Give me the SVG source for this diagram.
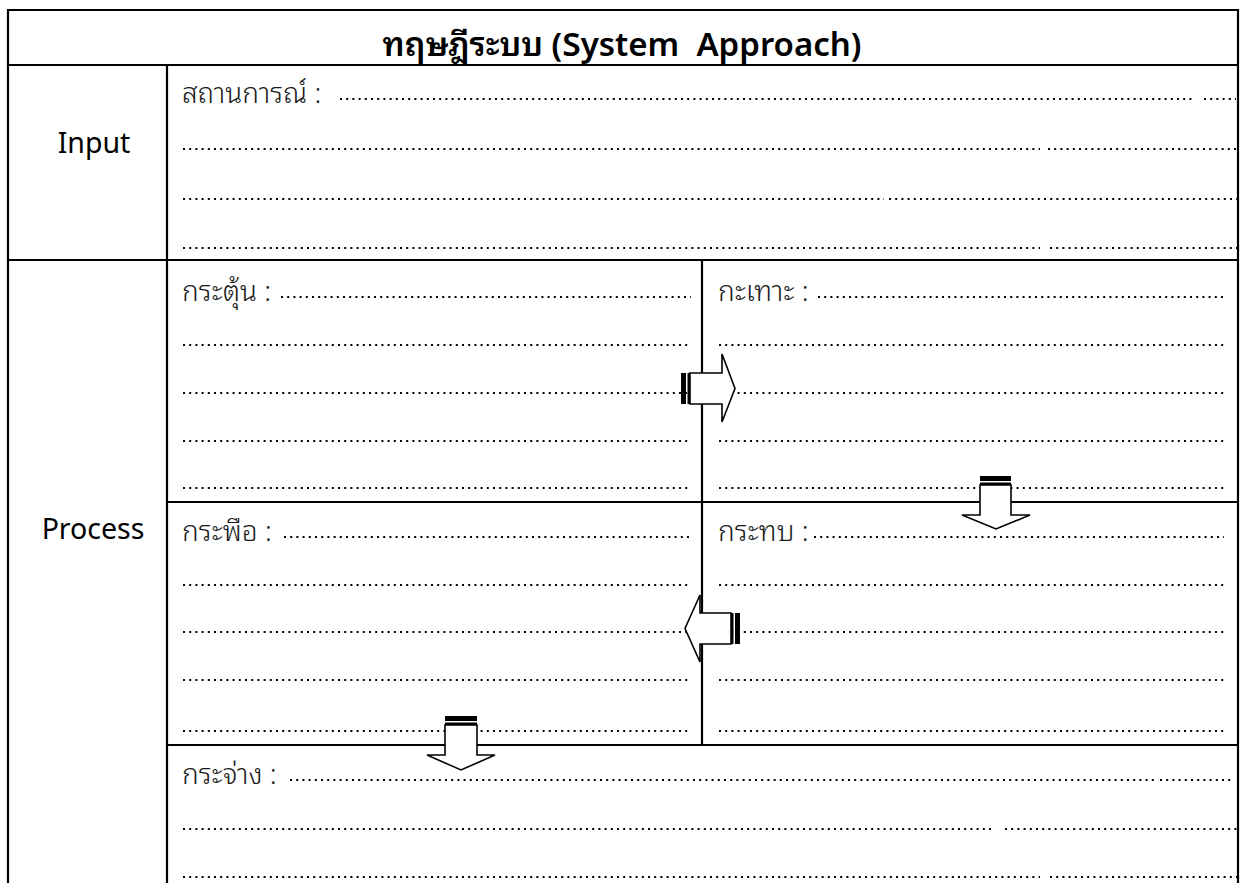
<svg xmlns="http://www.w3.org/2000/svg" width="1240" height="883" viewBox="0 0 1240 883">
  <defs>
    <style>
      .rule { stroke: #000; stroke-width: 2.2; fill: none; }
      .dots { stroke: #000; stroke-width: 2; stroke-dasharray: 2 4.2; fill: none; }
      .lbl { font-family: "Noto Sans Thai Looped", "Noto Sans Thai", "Noto Sans Thai UI", "Noto Sans", sans-serif; font-size: 28px; font-weight: 300; fill: #1a1a1a; }
      .side { font-family: "Noto Sans", "Open Sans", sans-serif; font-size: 28.5px; fill: #000; text-anchor: middle; }
      .title { font-family: "Noto Sans Thai Looped", "Noto Sans Thai", "Noto Sans", sans-serif; font-size: 33px; font-weight: 600; fill: #000; text-anchor: middle; white-space: pre; }
      .arrow { fill: #fff; stroke: #000; stroke-width: 1.6; stroke-linejoin: miter; }
      .stripe { fill: #000; }
    </style>
  </defs>
  <rect width="1240" height="883" fill="#fff"/>

  <!-- table frame -->
  <g id="frame">
    <path class="rule" d="M8,883 V10 H1238 V883"/>
    <line class="rule" x1="8" y1="65" x2="1238" y2="65"/>
    <line class="rule" x1="167" y1="65" x2="167" y2="883"/>
    <line class="rule" x1="8" y1="260" x2="1238" y2="260"/>
    <line class="rule" x1="167" y1="502" x2="1238" y2="502"/>
    <line class="rule" x1="167" y1="745" x2="1238" y2="745"/>
    <line class="rule" x1="702" y1="260" x2="702" y2="745"/>
  </g>

  <g id="title">
    <text class="title" x="622" y="56" xml:space="preserve">ทฤษฎีระบบ (System  Approach)</text>
  </g>

  <g id="input-label">
    <text class="side" x="94" y="153">Input</text>
  </g>

  <g id="input-cell">
    <text class="lbl" x="182" y="103">สถานการณ์ :</text>
    <line class="dots" x1="340" y1="99" x2="1194" y2="99"/>
    <line class="dots" x1="1204" y1="99" x2="1236" y2="99"/>
    <line class="dots" x1="183" y1="149" x2="1040" y2="149"/>
    <line class="dots" x1="1048" y1="149" x2="1237" y2="149"/>
    <line class="dots" x1="183" y1="199" x2="884" y2="199"/>
    <line class="dots" x1="889" y1="199" x2="1237" y2="199"/>
    <line class="dots" x1="183" y1="248" x2="1040" y2="248"/>
    <line class="dots" x1="1050" y1="248" x2="1237" y2="248"/>
  </g>

  <g id="process-label">
    <text class="side" x="93" y="539">Process</text>
  </g>

  <g id="stage-1">
    <text class="lbl" x="182" y="301">กระตุ้น :</text>
    <line class="dots" x1="281" y1="297" x2="691" y2="297"/>
    <line class="dots" x1="183" y1="345" x2="691" y2="345"/>
    <line class="dots" x1="183" y1="393" x2="691" y2="393"/>
    <line class="dots" x1="183" y1="441" x2="691" y2="441"/>
    <line class="dots" x1="183" y1="488" x2="691" y2="488"/>
  </g>

  <g id="stage-2">
    <text class="lbl" x="718" y="301">กะเทาะ :</text>
    <line class="dots" x1="818" y1="297" x2="1224" y2="297"/>
    <line class="dots" x1="719" y1="345" x2="1224" y2="345"/>
    <line class="dots" x1="719" y1="393" x2="1224" y2="393"/>
    <line class="dots" x1="719" y1="441" x2="1224" y2="441"/>
    <line class="dots" x1="719" y1="488" x2="1224" y2="488"/>
  </g>

  <g id="stage-3">
    <text class="lbl" x="718" y="541">กระทบ :</text>
    <line class="dots" x1="814" y1="537" x2="1224" y2="537"/>
    <line class="dots" x1="719" y1="585" x2="1224" y2="585"/>
    <line class="dots" x1="719" y1="632" x2="1224" y2="632"/>
    <line class="dots" x1="719" y1="680" x2="1224" y2="680"/>
    <line class="dots" x1="719" y1="731" x2="1224" y2="731"/>
  </g>

  <g id="stage-4">
    <text class="lbl" x="182" y="541">กระพือ :</text>
    <line class="dots" x1="284" y1="537" x2="691" y2="537"/>
    <line class="dots" x1="183" y1="585" x2="691" y2="585"/>
    <line class="dots" x1="183" y1="632" x2="691" y2="632"/>
    <line class="dots" x1="183" y1="680" x2="691" y2="680"/>
    <line class="dots" x1="183" y1="731" x2="691" y2="731"/>
  </g>

  <g id="stage-5">
    <text class="lbl" x="182" y="784">กระจ่าง :</text>
    <line class="dots" x1="290" y1="780" x2="1154" y2="780"/>
    <line class="dots" x1="1160" y1="780" x2="1233" y2="780"/>
    <line class="dots" x1="183" y1="829" x2="995" y2="829"/>
    <line class="dots" x1="1005" y1="829" x2="1237" y2="829"/>
    <line class="dots" x1="183" y1="877" x2="1040" y2="877"/>
    <line class="dots" x1="1050" y1="877" x2="1237" y2="877"/>
  </g>

  <!-- striped block arrows between the stages -->
  <g id="connectors">
    <g id="arrow-1-2">
      <rect class="stripe" x="681" y="373" width="5" height="31"/>
      <rect class="stripe" x="687.5" y="373" width="2.5" height="31"/>
      <path class="arrow" d="M690,373 H722 V354 L735,388.5 L722,422 V404 H690 Z"/>
    </g>
    <g id="arrow-2-3">
      <rect class="stripe" x="980" y="476" width="31" height="5"/>
      <rect class="stripe" x="980" y="482.5" width="31" height="2.5"/>
      <path class="arrow" d="M980,485 V515 H962 L996,529 L1030,515 H1011 V485 Z"/>
    </g>
    <g id="arrow-3-4">
      <rect class="stripe" x="735" y="613" width="5" height="31"/>
      <rect class="stripe" x="731" y="613" width="2.5" height="31"/>
      <path class="arrow" d="M731,613 H700 V595 L685,628.5 L700,662 V644 H731 Z"/>
    </g>
    <g id="arrow-4-5">
      <rect class="stripe" x="445" y="716" width="32" height="5"/>
      <rect class="stripe" x="445" y="722.5" width="32" height="2.5"/>
      <path class="arrow" d="M445,725 V755 H427 L461,770 L495,755 H477 V725 Z"/>
    </g>
  </g>
</svg>
